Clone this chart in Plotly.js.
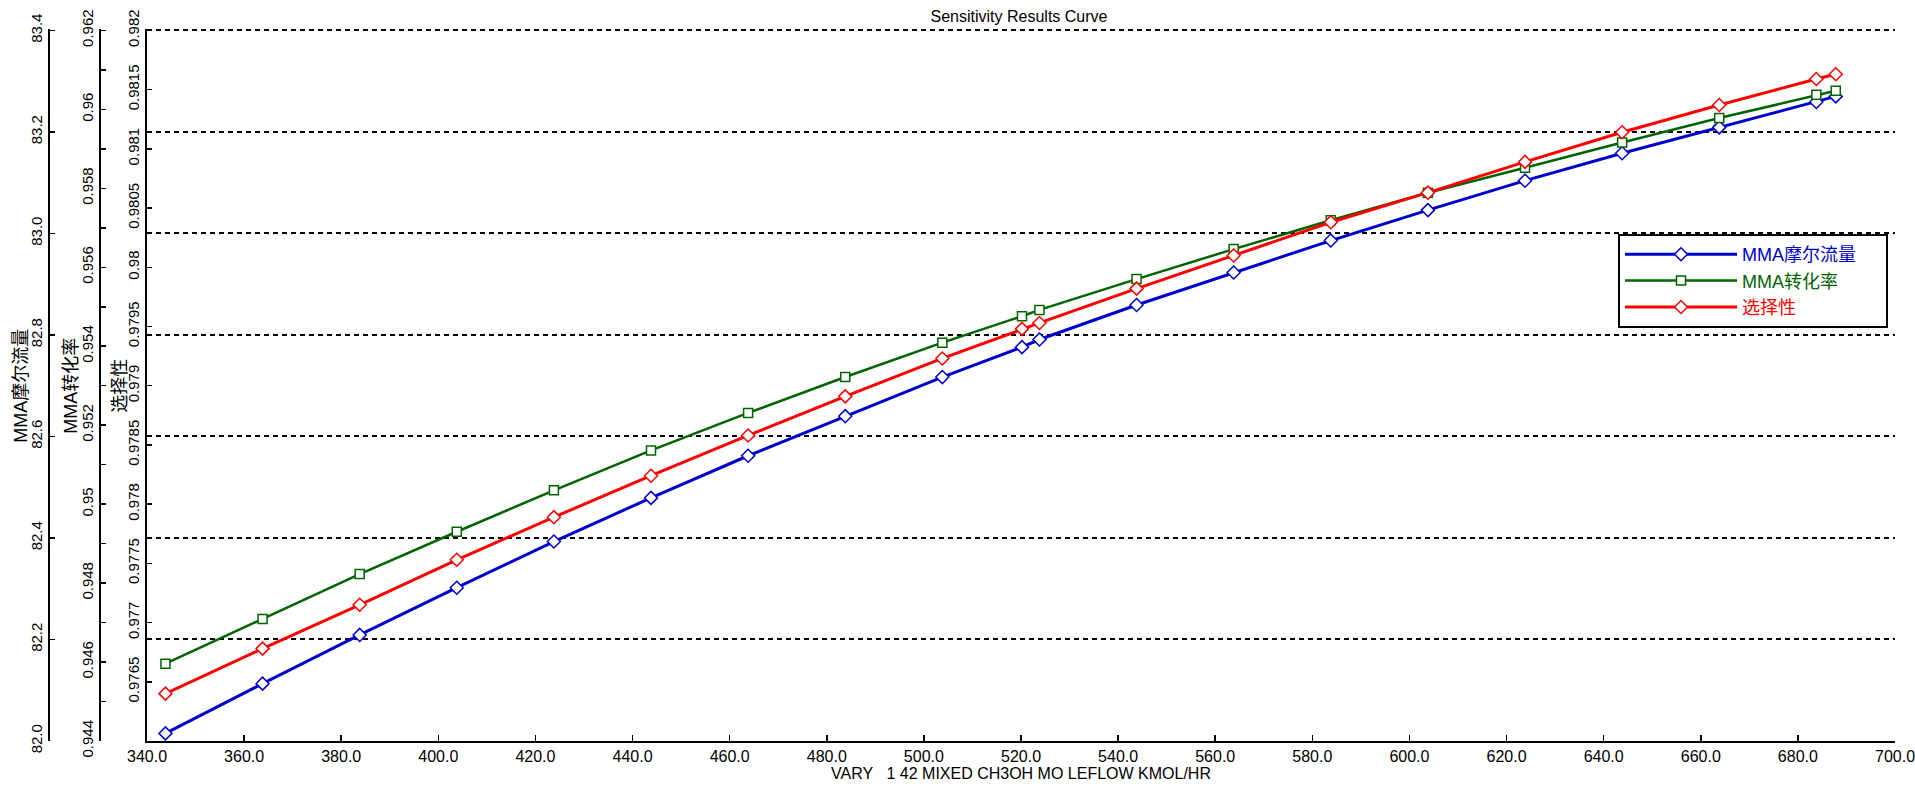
<!DOCTYPE html>
<html>
<head>
<meta charset="utf-8">
<script src="https://cdn.plot.ly/plotly-3.0.1.min.js"></script>
<style>html,body{margin:0;padding:0;background:#fff;}#chart{width:1915px;height:793px;}</style>
</head>
<body>
<div id="chart"></div>
<script>
// ---- data ----
const xValues = [343.8, 363.8, 383.8, 403.8, 423.8, 443.8, 463.8, 483.8, 503.8, 520.2, 523.8, 543.8, 563.8, 583.8, 603.8, 623.8, 643.8, 663.8, 683.8, 687.8];
const mmaFlow = [82.015, 82.113, 82.209, 82.302, 82.393, 82.479, 82.562, 82.640, 82.717, 82.776, 82.791, 82.859, 82.923, 82.986, 83.046, 83.104, 83.158, 83.209, 83.259, 83.270];
const mmaConv = [0.94596, 0.94709, 0.94823, 0.94930, 0.95035, 0.95136, 0.95231, 0.95322, 0.95409, 0.95476, 0.95492, 0.95570, 0.95646, 0.95719, 0.95789, 0.95852, 0.95916, 0.95978, 0.96037, 0.96047];
const selectivity = [0.97640, 0.97678, 0.97715, 0.97753, 0.97789, 0.97824, 0.97858, 0.97891, 0.97923, 0.97948, 0.97953, 0.97982, 0.98010, 0.98038, 0.98063, 0.98089, 0.98114, 0.98137, 0.98159, 0.98163];

const seriesNames = ['MMA摩尔流量', 'MMA转化率', '选择性'];
const chartTitle = 'Sensitivity Results Curve';
const xTitle = 'VARY\u00a0\u00a0\u00a01 42 MIXED CH3OH MO LEFLOW KMOL/HR';

const xTickVals = [340, 360, 380, 400, 420, 440, 460, 480, 500, 520, 540, 560, 580, 600, 620, 640, 660, 680, 700];
const xTickText = ['340.0', '360.0', '380.0', '400.0', '420.0', '440.0', '460.0', '480.0', '500.0', '520.0', '540.0', '560.0', '580.0', '600.0', '620.0', '640.0', '660.0', '680.0', '700.0'];
const y1TickVals = [82.0, 82.2, 82.4, 82.6, 82.8, 83.0, 83.2, 83.4];
const y1TickText = ['82.0', '82.2', '82.4', '82.6', '82.8', '83.0', '83.2', '83.4'];
const y2TickVals = [0.944, 0.946, 0.948, 0.950, 0.952, 0.954, 0.956, 0.958, 0.960, 0.962];
const y2TickText = ['0.944', '0.946', '0.948', '0.95', '0.952', '0.954', '0.956', '0.958', '0.96', '0.962'];
const y3TickVals = [0.9765, 0.9770, 0.9775, 0.9780, 0.9785, 0.9790, 0.9795, 0.9800, 0.9805, 0.9810, 0.9815, 0.9820];
const y3TickText = ['0.9765', '0.977', '0.9775', '0.978', '0.9785', '0.979', '0.9795', '0.98', '0.9805', '0.981', '0.9815', '0.982'];

// ---- styling ----
const FONT = 'Liberation Sans, Arial, "Noto Sans CJK SC", sans-serif';
const W = 1915, H = 793, ML = 0, MR = 20, MB = 52;
const EXT = 0.002;                       // tiny headroom so the top grid line is drawn
const PLOT_TOP = 30, PLOT_BOTTOM = H - MB;
const MT = PLOT_TOP - Math.round(EXT * (PLOT_BOTTOM - PLOT_TOP));
const PW = W - ML - MR, PH = H - MT - MB;
const px = v => v / PW;
const blue = '#0000CD', green = '#006400', red = '#FF0000';
const pad = '\u00a0\u00a0\u00a0\u00a0\u00a0';

function withExt(r) { return [r[0], r[1] + (r[1] - r[0]) * EXT]; }

const traces = [
  {x: xValues, y: mmaFlow, yaxis: 'y', name: '<span style="color:' + blue + '">' + seriesNames[0] + pad + '</span>',
   mode: 'lines+markers', line: {color: blue, width: 3},
   marker: {symbol: 'diamond', size: 10, color: '#fff', line: {color: blue, width: 1.5}}},
  {x: xValues, y: mmaConv, yaxis: 'y2', name: '<span style="color:' + green + '">' + seriesNames[1] + '</span>',
   mode: 'lines+markers', line: {color: green, width: 2.5},
   marker: {symbol: 'square', size: 9, color: '#fff', line: {color: green, width: 1.5}}},
  {x: xValues, y: selectivity, yaxis: 'y3', name: '<span style="color:' + red + '">' + seriesNames[2] + '</span>',
   mode: 'lines+markers', line: {color: red, width: 3},
   marker: {symbol: 'diamond', size: 10, color: '#fff', line: {color: red, width: 1.5}}}
];

const yCommon = {
  showline: true, linecolor: '#000', linewidth: 2, ticks: 'inside', ticklen: 5, tickwidth: 1.5, tickcolor: '#000',
  tickangle: -90, tickfont: {family: FONT, size: 15, color: '#000'}, zeroline: false, tickmode: 'array',
  fixedrange: true, title: {text: ''}
};

const titleFont = {family: FONT, size: 18, color: '#000'};
const annotations = [
  {text: seriesNames[0], x: px(21), y: 0.5 * (1 - EXT), xref: 'paper', yref: 'paper', xanchor: 'center', yanchor: 'middle', textangle: -90, showarrow: false, font: titleFont},
  {text: seriesNames[1], x: px(71), y: 0.5 * (1 - EXT), xref: 'paper', yref: 'paper', xanchor: 'center', yanchor: 'middle', textangle: -90, showarrow: false, font: titleFont},
  {text: seriesNames[2], x: px(120), y: 0.5 * (1 - EXT), xref: 'paper', yref: 'paper', xanchor: 'center', yanchor: 'middle', textangle: -90, showarrow: false, font: titleFont}
];

const layout = {
  width: W, height: H,
  margin: {l: ML, r: MR, t: MT, b: MB},
  paper_bgcolor: '#fff', plot_bgcolor: '#fff',
  font: {family: FONT, color: '#000'},
  showlegend: true,
  annotations: annotations,
  title: {text: chartTitle, font: {family: FONT, size: 16, color: '#000'},
          x: 1019 / W, xanchor: 'center', xref: 'container', y: 1 - 16 / H, yanchor: 'middle', yref: 'container'},
  xaxis: {
    domain: [px(147), 1], range: [340, 700], showline: true, linecolor: '#000', linewidth: 2,
    ticks: 'inside', ticklen: 6, tickwidth: 1.5, tickcolor: '#000', tickmode: 'array',
    tickvals: xTickVals, ticktext: xTickText, showgrid: false, zeroline: false, ticklabeloverflow: 'allow',
    tickfont: {family: FONT, size: 16, color: '#000'},
    title: {text: xTitle, font: {family: FONT, size: 16, color: '#000'}, standoff: 4}
  },
  yaxis: Object.assign({}, yCommon, {
    range: withExt([82.0, 83.4]), anchor: 'free', position: px(49), side: 'left',
    tickvals: y1TickVals, ticktext: y1TickText,
    showgrid: true, gridcolor: '#000', gridwidth: 2, griddash: '5px,4px'
  }),
  yaxis2: Object.assign({}, yCommon, {
    range: withExt([0.944, 0.962]), anchor: 'free', position: px(100), side: 'left', overlaying: 'y',
    tickvals: y2TickVals, ticktext: y2TickText, showgrid: false,
    minor: {dtick: 0.001, tick0: 0.944, ticks: 'inside', ticklen: 5, tickwidth: 1.5, tickcolor: '#000', showgrid: false}
  }),
  yaxis3: Object.assign({}, yCommon, {
    range: withExt([0.976, 0.982]), anchor: 'x', side: 'left', overlaying: 'y',
    tickvals: y3TickVals, ticktext: y3TickText, showgrid: false
  }),
  legend: {
    x: px(1618), y: (PLOT_BOTTOM - 234) / PH, xanchor: 'left', yanchor: 'top',
    bgcolor: '#fff', bordercolor: '#000', borderwidth: 2,
    font: {family: FONT, size: 18, color: '#000'}, itemwidth: 112, tracegroupgap: 0
  }
};

Plotly.newPlot('chart', traces, layout, {displayModeBar: false, staticPlot: true});
</script>
</body>
</html>
